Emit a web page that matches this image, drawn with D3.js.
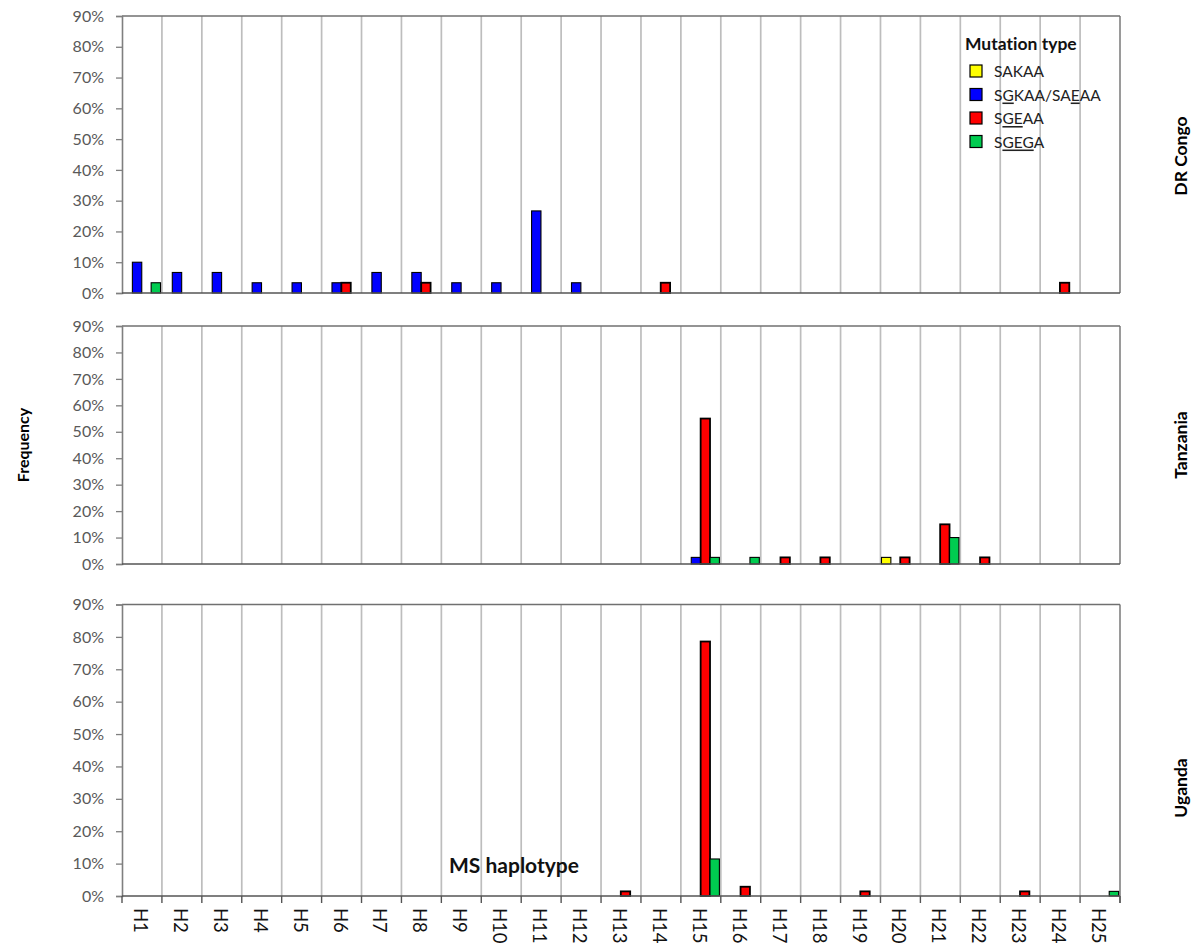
<!DOCTYPE html>
<html>
<head>
<meta charset="utf-8">
<script src="https://cdn.jsdelivr.net/npm/d3@7"></script>
<style>
  html, body { margin: 0; padding: 0; background: #fff; }
  svg { display: block; }
  text { font-family: Lato, "Open Sans", "Liberation Sans", sans-serif; font-variant-ligatures: none; }
</style>
</head>
<body>
<svg id="chart" width="1197" height="947"></svg>
<script>
// Haplotype categories on the x axis
const haplotypes = ["H1","H2","H3","H4","H5","H6","H7","H8","H9","H10","H11","H12","H13",
  "H14","H15","H16","H17","H18","H19","H20","H21","H22","H23","H24","H25"];

// Mutation types (series), in the order they sit inside each haplotype
const mutationTypes = ["SAKAA", "SGKAA/SAEAA", "SGEAA", "SGEGA"];
const typeColors = ["#ffff00", "#0000ff", "#ff0000", "#00cc50"];

// Y axis ticks (percent)
const yTicks = [0, 10, 20, 30, 40, 50, 60, 70, 80, 90];

// Frequencies (%) per haplotype, DR Congo
const drcSAKAA = [0,0,0,0,0,0,0,0,0,0,0,0,0,0,0,0,0,0,0,0,0,0,0,0,0];
const drcSGKAA = [10,6.67,6.67,3.33,3.33,3.33,6.67,6.67,3.33,3.33,26.67,3.33,0,0,0,0,0,0,0,0,0,0,0,0,0];
const drcSGEAA = [0,0,0,0,0,3.33,0,3.33,0,0,0,0,0,3.33,0,0,0,0,0,0,0,0,0,3.33,0];
const drcSGEGA = [3.33,0,0,0,0,0,0,0,0,0,0,0,0,0,0,0,0,0,0,0,0,0,0,0,0];

// Frequencies (%) per haplotype, Tanzania
const tzaSAKAA = [0,0,0,0,0,0,0,0,0,0,0,0,0,0,0,0,0,0,0,2.5,0,0,0,0,0];
const tzaSGKAA = [0,0,0,0,0,0,0,0,0,0,0,0,0,0,2.5,0,0,0,0,0,0,0,0,0,0];
const tzaSGEAA = [0,0,0,0,0,0,0,0,0,0,0,0,0,0,55,0,2.5,2.5,0,2.5,15,2.5,0,0,0];
const tzaSGEGA = [0,0,0,0,0,0,0,0,0,0,0,0,0,0,2.5,2.5,0,0,0,0,10,0,0,0,0];

// Frequencies (%) per haplotype, Uganda
const ugaSAKAA = [0,0,0,0,0,0,0,0,0,0,0,0,0,0,0,0,0,0,0,0,0,0,0,0,0];
const ugaSGKAA = [0,0,0,0,0,0,0,0,0,0,0,0,0,0,0,0,0,0,0,0,0,0,0,0,0];
const ugaSGEAA = [0,0,0,0,0,0,0,0,0,0,0,0,1.43,0,78.57,2.86,0,0,1.43,0,0,0,1.43,0,0];
const ugaSGEGA = [0,0,0,0,0,0,0,0,0,0,0,0,0,0,11.43,0,0,0,0,0,0,0,0,0,1.43];

const countries = ["DR Congo", "Tanzania", "Uganda"];
const countrySeries = [
  [drcSAKAA, drcSGKAA, drcSGEAA, drcSGEGA],
  [tzaSAKAA, tzaSGKAA, tzaSGEAA, tzaSGEGA],
  [ugaSAKAA, ugaSGKAA, ugaSGEAA, ugaSGEGA]
];

// Panel layout
const left = 122, right = 1120;
const panels = [
  { top: 16, bottom: 293, labelY: 156 },
  { top: 326, bottom: 564, labelY: 445 },
  { top: 604.5, bottom: 896, labelY: 788 }
];

const svg = d3.select("#chart");

const x = d3.scaleBand().domain(haplotypes).range([left, right]).padding(0);
const bw = x.bandwidth();
const x1 = d3.scaleBand().domain(mutationTypes).range([bw * 0.025, bw * 0.965]).padding(0);
const color = d3.scaleOrdinal().domain(mutationTypes).range(typeColors);

panels.forEach((p, pi) => {
  const y = d3.scaleLinear().domain([0, 90]).range([p.bottom, p.top]);
  const g = svg.append("g");

  // vertical gridlines at haplotype boundaries
  const bounds = haplotypes.slice(1).map(h => x(h));
  g.selectAll("line.grid").data(bounds).join("line")
    .attr("class", "grid")
    .attr("x1", d => d).attr("x2", d => d)
    .attr("y1", p.top).attr("y2", p.bottom)
    .attr("stroke", "#bdbdbd").attr("stroke-width", 1.7);
  // right edge
  g.append("line")
    .attr("x1", right).attr("x2", right)
    .attr("y1", p.top).attr("y2", pi === 2 ? p.bottom + 7 : p.bottom)
    .attr("stroke", "#9a9a9a").attr("stroke-width", 2);

  // top border line
  g.append("line")
    .attr("x1", left).attr("x2", right)
    .attr("y1", p.top).attr("y2", p.top)
    .attr("stroke", "#707070").attr("stroke-width", 1.4);

  // bars
  const rows = [];
  countrySeries[pi].forEach((vals, si) => {
    vals.forEach((v, hi) => {
      if (v > 0) rows.push({ h: haplotypes[hi], t: mutationTypes[si], v });
    });
  });
  g.selectAll("rect.bar").data(rows).join("rect")
    .attr("class", "bar")
    .attr("x", d => x(d.h) + x1(d.t))
    .attr("y", d => y(d.v))
    .attr("width", x1.bandwidth())
    .attr("height", d => y(0) - y(d.v))
    .attr("fill", d => color(d.t))
    .attr("stroke", "#000")
    .attr("stroke-width", d => d.t === "SGEAA" ? 1.8 : 1.1);

  // y axis
  const yAxis = d3.axisLeft(y).tickValues(yTicks).tickFormat(d => d + "%").tickSize(6).tickPadding(12);
  const ya = g.append("g").attr("transform", `translate(${left},0)`).call(yAxis);
  ya.select(".domain").attr("stroke", "#7f7f7f").attr("stroke-width", 1.6);
  ya.selectAll(".tick line").attr("stroke", "#7f7f7f").attr("stroke-width", 1.3);
  ya.selectAll(".tick text")
    .attr("fill", "#595959")
    .style("font-size", "16px")
    .style("font-family", "Lato, 'Open Sans', sans-serif");

  // baseline
  g.append("line")
    .attr("x1", left).attr("x2", right)
    .attr("y1", p.bottom).attr("y2", p.bottom)
    .attr("stroke", "#555").attr("stroke-width", 1.6);

  // country label on the right
  svg.append("text")
    .attr("transform", `translate(1180,${p.labelY}) rotate(-90)`)
    .attr("text-anchor", "middle")
    .attr("dominant-baseline", "central")
    .style("font-size", "17.5px").style("font-weight", "bold")
    .attr("fill", "#000")
    .text(countries[pi]);

  // x axis with ticks at boundaries on the bottom panel
  if (pi === 2) {
    const edges = haplotypes.map(h => x(h)).concat([right]);
    g.selectAll("line.xtick").data(edges).join("line")
      .attr("class", "xtick")
      .attr("x1", d => d).attr("x2", d => d)
      .attr("y1", p.bottom).attr("y2", p.bottom + 7)
      .attr("stroke", "#555").attr("stroke-width", 1.4);
    g.selectAll("text.xlab").data(haplotypes).join("text")
      .attr("class", "xlab")
      .attr("transform", d => `translate(${x(d) + bw / 2 - 1},${p.bottom + 12}) rotate(90)`)
      .attr("text-anchor", "start")
      .attr("dominant-baseline", "central")
      .style("font-size", "18.5px")
      .attr("fill", "#111")
      .text(d => d);

    svg.append("text")
      .attr("x", 514).attr("y", 864)
      .attr("text-anchor", "middle")
      .attr("dominant-baseline", "central")
      .style("font-size", "21px").style("font-weight", "bold")
      .attr("fill", "#111")
      .text("MS haplotype");
  }
});

// y axis title
svg.append("text")
  .attr("transform", "translate(22,445) rotate(-90)")
  .attr("text-anchor", "middle")
  .attr("dominant-baseline", "central")
  .style("font-size", "16px").style("font-weight", "bold")
  .attr("fill", "#000")
  .text("Frequency");

// legend
const legend = svg.append("g");
legend.append("text")
  .attr("x", 965).attr("y", 43)
  .attr("dominant-baseline", "central")
  .style("font-size", "17.5px").style("font-weight", "bold")
  .attr("fill", "#111")
  .text("Mutation type");

// label parts: [text, underlined]
const legendParts = [
  [["SAKAA", false]],
  [["S", false], ["G", true], ["KAA/SA", false], ["E", true], ["AA", false]],
  [["S", false], ["GE", true], ["AA", false]],
  [["S", false], ["GEG", true], ["A", false]]
];
const legendY = [71, 94.5, 118, 141.5];
mutationTypes.forEach((t, i) => {
  legend.append("rect")
    .attr("x", 970).attr("y", legendY[i] - 6)
    .attr("width", 12).attr("height", 12)
    .attr("fill", color(t)).attr("stroke", "#000").attr("stroke-width", 1.2);
  const txt = legend.append("text")
    .attr("x", 994).attr("y", legendY[i])
    .attr("dominant-baseline", "central")
    .style("font-size", "15.5px")
    .attr("fill", "#222");
  legendParts[i].forEach(([s, u]) => {
    txt.append("tspan").text(s).style("text-decoration", u ? "underline" : "none");
  });
});
</script>
</body>
</html>
